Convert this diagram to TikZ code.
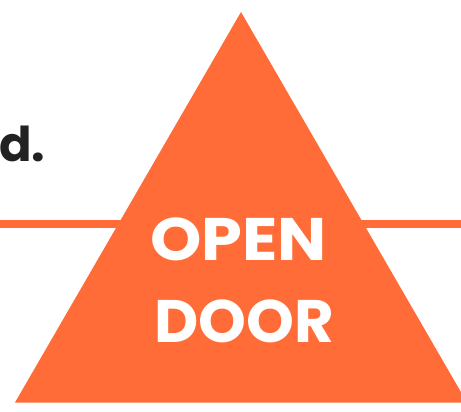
\documentclass[tikz,border=0pt]{standalone}
\usepackage{fontspec}
\usepackage{graphicx}
\newfontfamily\pop{Poppins}
\definecolor{doorange}{RGB}{255,108,56}
\definecolor{dark}{RGB}{34,34,34}
\begin{document}
\begin{tikzpicture}[x=1pt,y=-1pt,
  bigtxt/.style={font=\pop\bfseries\fontsize{60}{60}\selectfont, text=white, inner sep=0pt, anchor=base},
  leadtxt/.style={font=\pop\bfseries\fontsize{48}{48}\selectfont, text=dark, inner sep=0pt, anchor=base west}]
\useasboundingbox (0,0) rectangle (461,412);
\clip (0,0) rectangle (461,412);
\fill[white] (0,0) rectangle (461,412);
\coordinate (lineL) at (0,224);
\coordinate (lineR) at (461,224);
\draw[doorange, line width=8.5pt] (lineL) -- (lineR);
\coordinate (apex) at (241,12);
\coordinate (baseL) at (15,402.5);
\coordinate (baseR) at (467,402.5);
\fill[doorange] (apex) -- (baseL) -- (baseR) -- cycle;
\node[leadtxt] (lead) at (-1,161) {d.};
\node[bigtxt] (open) at (238.5,260) {\scalebox{1.09}[1]{OPEN}};
\node[bigtxt] (door) at (244.5,342) {\scalebox{1.015}[1]{DOOR}};
\end{tikzpicture}
\end{document}
